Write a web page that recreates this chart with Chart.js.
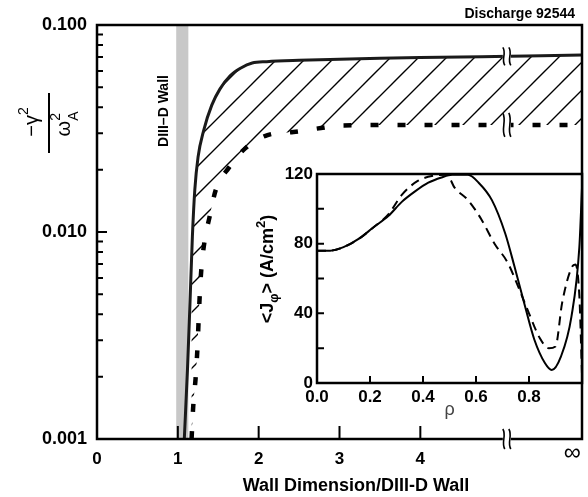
<!DOCTYPE html>
<html>
<head>
<meta charset="utf-8">
<script src="https://cdn.jsdelivr.net/npm/chart.js@4/dist/chart.umd.min.js"></script>
<style>
  html, body { margin: 0; padding: 0; background: #fff; }
  #wrap { position: relative; width: 588px; height: 497px; }
  #wrap canvas { position: absolute; left: 0; top: 0; }
</style>
</head>
<body>
<div id="wrap">
  <canvas id="mainChart" width="588" height="497"></canvas>
  <canvas id="insetChart" width="588" height="497"></canvas>
</div>
<script>
const FONT = '"Liberation Sans", Arial, Helvetica, sans-serif';

// main plot: -gamma^2/omega_A^2 vs wall position (solid = upper curve, dashed = lower curve)
const solidWall = [1.08, 1.12, 1.15, 1.18, 1.21, 1.25, 1.32, 1.42, 1.52, 1.65, 1.78, 1.92, 2.1, 2.5, 3.0, 3.5, 4.0, 4.5, 5.1, 5.5, 6.0];
const solidGrowth = [0.001, 0.0022, 0.0045, 0.0095, 0.016, 0.023, 0.031, 0.041, 0.049, 0.057, 0.062, 0.0655, 0.0665, 0.0675, 0.0683, 0.069, 0.0696, 0.0701, 0.0706, 0.0711, 0.0716];
const dashWall = [1.17, 1.19, 1.22, 1.24, 1.27, 1.29, 1.33, 1.39, 1.47, 1.63, 1.84, 2.11, 2.43, 2.77, 3.0, 4.0, 5.0, 6.0];
const dashGrowth = [0.001, 0.00143, 0.00197, 0.00263, 0.00485, 0.00655, 0.009, 0.0117, 0.016, 0.0204, 0.0255, 0.0294, 0.0304, 0.0318, 0.0327, 0.0329, 0.0329, 0.0329];
const wallBand = [0.98, 1.13];

const xTicks = [0, 1, 2, 3, 4];
const infTick = 5.88;
const yTicks = [0.001, 0.01, 0.1];
const yMinor = [0.002, 0.003, 0.004, 0.005, 0.006, 0.007, 0.008, 0.009, 0.02, 0.03, 0.04, 0.05, 0.06, 0.07, 0.08, 0.09];
const breakAt = 5.07;

// inset: current density profiles
const rhoSolid = [0.0, 0.05, 0.1, 0.16, 0.21, 0.27, 0.32, 0.37, 0.42, 0.47, 0.51, 0.57, 0.61, 0.66, 0.71, 0.745, 0.785, 0.82, 0.86, 0.886, 0.92, 0.96, 0.99, 1.0];
const jSolid = [76, 76, 78, 83, 89, 96, 104, 110, 115, 118, 119.5, 119.5, 115, 105, 86, 67, 44, 25, 11.5, 7.5, 15, 38, 78, 112];
const rhoDash = [0.0, 0.05, 0.1, 0.16, 0.21, 0.27, 0.32, 0.38, 0.44, 0.49, 0.52, 0.57, 0.62, 0.67, 0.72, 0.76, 0.8, 0.84, 0.875, 0.9, 0.925, 0.96, 0.975, 0.99, 1.0];
const jDash = [76, 76, 78, 83, 89, 97, 108, 116, 119, 119.5, 112, 105, 94, 80, 69, 55, 40, 26, 20, 21, 46, 66, 68, 50, 5];
const rhoTicks = [0, 0.2, 0.4, 0.6, 0.8, 1.0];
const rhoLabels = ['0.0', '0.2', '0.4', '0.6', '0.8', ''];
const jTicks = [0, 40, 80, 120];
const jMinor = [20, 60, 100];

function pts(xs, ys) {
  return xs.map((x, i) => ({ x: x, y: ys[i] }));
}

function logInterp(xs, ys, x) {
  for (let i = 1; i < xs.length; i++) {
    if (x <= xs[i]) {
      const t = (x - xs[i - 1]) / (xs[i] - xs[i - 1]);
      return Math.pow(10, Math.log10(ys[i - 1]) + t * (Math.log10(ys[i]) - Math.log10(ys[i - 1])));
    }
  }
  return ys[ys.length - 1];
}

// hatch pattern for the region between the curves
function makeHatch(ctx) {
  const size = 28;
  const c = document.createElement('canvas');
  c.width = size; c.height = size;
  const g = c.getContext('2d');
  g.strokeStyle = '#000';
  g.lineWidth = 1.4;
  g.beginPath();
  g.moveTo(-2, size + 2); g.lineTo(size + 2, -2);
  g.moveTo(-2, 2); g.lineTo(2, -2);
  g.moveTo(size - 2, size + 2); g.lineTo(size + 2, size - 2);
  g.stroke();
  return ctx.createPattern(c, 'repeat');
}

// text made of runs (sub/superscripts), centred along the baseline at cx,cy
function drawRuns(ctx, runs, cx, cy, rotate) {
  ctx.save();
  ctx.translate(cx, cy);
  if (rotate) ctx.rotate(-Math.PI / 2);
  ctx.textBaseline = 'alphabetic';
  ctx.textAlign = 'left';
  ctx.fillStyle = '#000';
  let u = 0, prevStart = 0;
  runs.forEach(r => {
    ctx.font = r.font;
    r.w = ctx.measureText(r.text).width;
    if (r.stack) { r.u = prevStart; u = Math.max(u, prevStart + r.w); }
    else { r.u = u; prevStart = u; u += r.w; }
  });
  const total = u;
  runs.forEach(r => {
    ctx.font = r.font;
    ctx.fillText(r.text, r.u - total / 2, r.dy || 0);
  });
  ctx.restore();
}

function drawBreak(ctx, x, y, h) {
  ctx.save();
  ctx.fillStyle = '#fff';
  ctx.fillRect(x - 4, y - h / 2, 8, h);
  ctx.strokeStyle = '#000';
  ctx.lineWidth = 1.6;
  [-3, 3].forEach(dx => {
    ctx.beginPath();
    ctx.moveTo(x + dx - 1, y - h / 2);
    ctx.bezierCurveTo(x + dx + 3, y - h / 6, x + dx - 3, y + h / 6, x + dx + 1, y + h / 2);
    ctx.stroke();
  });
  ctx.restore();
}

const mainCanvas = document.getElementById('mainChart');
const hatch = makeHatch(mainCanvas.getContext('2d'));

const mainDecor = {
  id: 'mainDecor',
  beforeDatasetsDraw(chart) {
    const { ctx, chartArea: a, scales: { x } } = chart;
    const x0 = x.getPixelForValue(wallBand[0]);
    const x1 = x.getPixelForValue(wallBand[1]);
    ctx.save();
    ctx.fillStyle = '#c8c8c8';
    ctx.fillRect(x0, a.top, x1 - x0, a.bottom - a.top);
    ctx.restore();
  },
  afterDatasetsDraw(chart) {
    const { ctx, chartArea: a, scales: { x, y } } = chart;
    ctx.save();
    ctx.strokeStyle = '#000';
    ctx.lineWidth = 2.5;
    ctx.strokeRect(a.left, a.top, a.right - a.left, a.bottom - a.top);
    ctx.lineWidth = 2;
    ctx.beginPath();
    xTicks.slice(1).forEach(v => {
      const px = x.getPixelForValue(v);
      ctx.moveTo(px, a.bottom); ctx.lineTo(px, a.bottom - 13);
    });
    yTicks.forEach(v => {
      const py = y.getPixelForValue(v);
      ctx.moveTo(a.left, py); ctx.lineTo(a.left + 10, py);
    });
    yMinor.forEach(v => {
      const py = y.getPixelForValue(v);
      ctx.moveTo(a.left, py); ctx.lineTo(a.left + 6, py);
    });
    ctx.stroke();
    ctx.restore();

    const bx = x.getPixelForValue(breakAt);
    drawBreak(ctx, bx, y.getPixelForValue(logInterp(solidWall, solidGrowth, breakAt)), 18);
    drawBreak(ctx, bx, y.getPixelForValue(logInterp(dashWall, dashGrowth, breakAt)), 24);
    drawBreak(ctx, bx, a.bottom, 20);
  },
  afterDraw(chart) {
    const { ctx, scales: { x } } = chart;
    const f = 'px ' + FONT;
    ctx.save();
    ctx.fillStyle = '#000';
    ctx.font = 'bold 14' + f;
    ctx.textAlign = 'right';
    ctx.textBaseline = 'alphabetic';
    ctx.fillText('Discharge 92544', 575, 18);

    ctx.textAlign = 'center';
    ctx.font = 'bold 18' + f;
    ctx.fillText('Wall Dimension/DIII-D Wall', 356, 491);

    ctx.font = '24' + f;
    ctx.textBaseline = 'middle';
    ctx.fillText('∞', x.getPixelForValue(infTick), 453);

    ctx.translate(164, 111);
    ctx.rotate(-Math.PI / 2);
    ctx.font = 'bold 14' + f;
    ctx.fillText('DIII–D Wall', 0, 0);
    ctx.restore();

    // y title: rotated fraction, numerator on the left, denominator on the right
    ctx.save();
    ctx.strokeStyle = '#000';
    ctx.lineWidth = 2;
    ctx.beginPath();
    ctx.moveTo(49, 93); ctx.lineTo(49, 153);
    ctx.stroke();
    ctx.restore();
    drawRuns(ctx, [{ text: '−γ', font: '20' + f }, { text: '2', font: '14' + f, dy: -10 }], 38, 122, true);
    drawRuns(ctx, [{ text: 'ω', font: '20' + f }, { text: '2', font: '14' + f, dy: -10 }, { text: 'A', font: '14' + f, dy: 8, stack: true }], 70, 124, true);
  }
};

new Chart(mainCanvas, {
  type: 'line',
  data: {
    datasets: [
      {
        label: 'upper',
        data: pts(solidWall, solidGrowth),
        borderColor: '#1a1a1a',
        borderWidth: 3,
        pointRadius: 0,
        cubicInterpolationMode: 'monotone',
        fill: '+1',
        backgroundColor: hatch
      },
      {
        label: 'lower',
        data: pts(dashWall, dashGrowth),
        borderColor: '#000',
        borderWidth: 4.5,
        borderDash: [8, 19],
        borderCapStyle: 'butt',
        pointRadius: 0,
        cubicInterpolationMode: 'monotone',
        fill: false
      }
    ]
  },
  options: {
    responsive: false,
    animation: false,
    layout: { padding: { left: 0, top: 25, right: 6, bottom: 0 } },
    plugins: { legend: { display: false }, tooltip: { enabled: false } },
    scales: {
      x: {
        type: 'linear',
        min: 0,
        max: 6,
        afterBuildTicks: s => { s.ticks = xTicks.map(v => ({ value: v })); },
        afterFit: s => { s.height = 58; },
        grid: { display: false, drawTicks: false },
        border: { display: false },
        ticks: {
          autoSkip: false,
          maxRotation: 0,
          padding: 10,
          color: '#000',
          font: { family: FONT, size: 17, weight: 'bold' },
          callback: v => String(v)
        }
      },
      y: {
        type: 'logarithmic',
        min: 0.001,
        max: 0.1,
        afterBuildTicks: s => { s.ticks = yTicks.map(v => ({ value: v })); },
        afterFit: s => { s.width = 97; },
        grid: { display: false, drawTicks: false },
        border: { display: false },
        ticks: {
          padding: 10,
          color: '#000',
          font: { family: FONT, size: 18, weight: 'bold' },
          callback: v => Number(v).toFixed(3)
        }
      }
    }
  },
  plugins: [mainDecor]
});

const insetDecor = {
  id: 'insetDecor',
  beforeDatasetsDraw(chart) {
    const { ctx, chartArea: a } = chart;
    ctx.save();
    ctx.fillStyle = '#fff';
    ctx.fillRect(a.left, a.top, a.right - a.left, a.bottom - a.top);
    ctx.restore();
  },
  afterDatasetsDraw(chart) {
    const { ctx, chartArea: a, scales: { x, y } } = chart;
    ctx.save();
    ctx.strokeStyle = '#000';
    ctx.lineWidth = 2.5;
    ctx.strokeRect(a.left, a.top, a.right - a.left, a.bottom - a.top);
    ctx.lineWidth = 2;
    ctx.beginPath();
    rhoTicks.slice(1, -1).forEach(v => {
      const px = x.getPixelForValue(v);
      ctx.moveTo(px, a.bottom); ctx.lineTo(px, a.bottom - 7);
    });
    jTicks.concat(jMinor).forEach(v => {
      const py = y.getPixelForValue(v);
      ctx.moveTo(a.left, py); ctx.lineTo(a.left + 7, py);
    });
    ctx.stroke();
    ctx.restore();
  },
  afterDraw(chart) {
    const f = 'px ' + FONT;
    drawRuns(chart.ctx, [
      { text: '<J', font: 'bold 18' + f },
      { text: 'φ', font: 'bold 13' + f, dy: 5 },
      { text: '> (A/cm', font: 'bold 18' + f },
      { text: '2', font: 'bold 13' + f, dy: -8 },
      { text: ')', font: 'bold 18' + f }
    ], 273, 269, true);
  }
};

new Chart(document.getElementById('insetChart'), {
  type: 'line',
  data: {
    datasets: [
      {
        label: 'solid',
        data: pts(rhoSolid, jSolid),
        borderColor: '#000',
        borderWidth: 2,
        pointRadius: 0,
        cubicInterpolationMode: 'monotone',
        fill: false
      },
      {
        label: 'dashed',
        data: pts(rhoDash, jDash),
        borderColor: '#000',
        borderWidth: 2,
        borderDash: [9, 6],
        pointRadius: 0,
        cubicInterpolationMode: 'monotone',
        fill: false
      }
    ]
  },
  options: {
    responsive: false,
    animation: false,
    layout: { padding: { left: 250, top: 174, right: 6, bottom: 70 } },
    plugins: { legend: { display: false }, tooltip: { enabled: false } },
    scales: {
      x: {
        type: 'linear',
        min: 0,
        max: 1,
        afterBuildTicks: s => { s.ticks = rhoTicks.map(v => ({ value: v })); },
        afterFit: s => { s.height = 44; },
        grid: { display: false, drawTicks: false },
        border: { display: false },
        ticks: {
          autoSkip: false,
          maxRotation: 0,
          padding: 4,
          color: '#000',
          font: { family: FONT, size: 17, weight: 'bold' },
          callback: (v, i) => rhoLabels[i]
        },
        title: {
          display: true,
          text: 'ρ',
          color: '#444',
          font: { family: FONT, size: 18 },
          padding: { top: 0, bottom: 6 }
        }
      },
      y: {
        type: 'linear',
        min: 0,
        max: 120,
        afterBuildTicks: s => { s.ticks = jTicks.map(v => ({ value: v })); },
        afterFit: s => { s.width = 67; },
        grid: { display: false, drawTicks: false },
        border: { display: false },
        ticks: {
          padding: 4,
          color: '#000',
          font: { family: FONT, size: 17, weight: 'bold' },
          callback: v => String(v)
        }
      }
    }
  },
  plugins: [insetDecor]
});
</script>
</body>
</html>
